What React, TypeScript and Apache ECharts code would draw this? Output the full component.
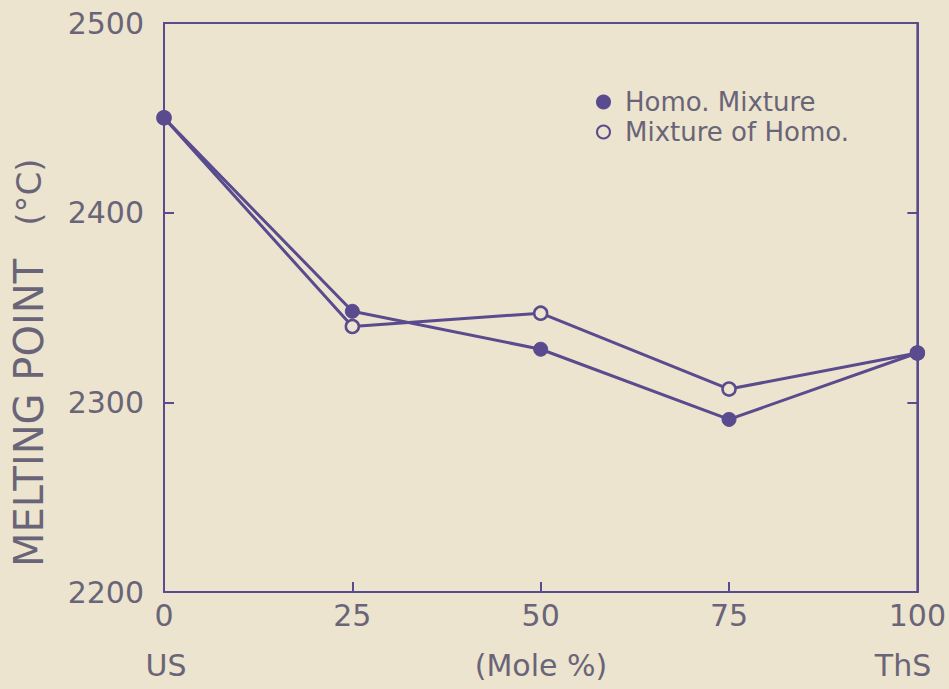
import React, { useEffect, useRef } from "react";
import * as echarts from "echarts";

const xValues = [0, 25, 50, 75, 100];
const homoMixture = [2450, 2348, 2328, 2291, 2326];
const mixtureOfHomo = [2450, 2340, 2347, 2307, 2326];
const seriesNames = ["Homo. Mixture", "Mixture of Homo."];

const LINE = "#5a4a8e";
const TEXT = "#6a6478";
const BG = "#ece4ce";
const FONT = "DejaVu Sans";

export default function App() {
  const ref = useRef<HTMLDivElement>(null);
  useEffect(() => {
    document.body.style.margin = "0";
    const chart = echarts.init(ref.current!, undefined, { renderer: "svg" });
    const toPairs = (ys: number[]) => xValues.map((x, i) => [x, ys[i]]);
    chart.setOption({
      animation: false,
      backgroundColor: BG,
      grid: {
        left: 164,
        right: 28,
        top: 23,
        bottom: 97,
        show: true,
        borderColor: LINE,
        borderWidth: 2,
        backgroundColor: "transparent",
      },
      legend: {
        orient: "vertical",
        left: 591,
        top: 84,
        itemWidth: 13,
        itemHeight: 13,
        itemGap: 4,
        icon: "circle",
        textStyle: {
          fontFamily: FONT,
          fontSize: 26,
          color: TEXT,
          lineHeight: 26,
          padding: [0, 0, 0, 10],
        },
        data: seriesNames,
      },
      xAxis: {
        type: "value",
        min: 0,
        max: 100,
        interval: 25,
        axisLine: { show: true, lineStyle: { color: LINE, width: 2 } },
        axisTick: { show: true, inside: true, length: 10, lineStyle: { color: LINE, width: 2 } },
        splitLine: { show: false },
        axisLabel: {
          fontFamily: FONT,
          fontSize: 30,
          color: TEXT,
          margin: 8,
          formatter: (v: number) => String(v),
        },
      },
      yAxis: [
        {
          type: "value",
          min: 2200,
          max: 2500,
          interval: 100,
          position: "left",
          axisLine: { show: true, lineStyle: { color: LINE, width: 2 } },
          axisTick: { show: true, inside: true, length: 10, lineStyle: { color: LINE, width: 2 } },
          splitLine: { show: false },
          axisLabel: {
            fontFamily: FONT,
            fontSize: 30,
            color: TEXT,
            margin: 20,
            formatter: (v: number) => String(v),
          },
        },
        {
          type: "value",
          min: 2200,
          max: 2500,
          interval: 100,
          position: "right",
          axisLine: { show: true, lineStyle: { color: LINE, width: 2 } },
          axisTick: { show: true, inside: true, length: 10, lineStyle: { color: LINE, width: 2 } },
          splitLine: { show: false },
          axisLabel: { show: false },
        },
      ],
      series: [
        {
          name: seriesNames[0],
          type: "line",
          data: toPairs(homoMixture),
          symbol: "circle",
          symbolSize: 14,
          lineStyle: { color: LINE, width: 3 },
          itemStyle: { color: LINE, borderColor: LINE, borderWidth: 1 },
          z: 3,
        },
        {
          name: seriesNames[1],
          type: "line",
          data: toPairs(mixtureOfHomo),
          symbol: "circle",
          symbolSize: 13,
          lineStyle: { color: LINE, width: 3 },
          itemStyle: { color: BG, borderColor: LINE, borderWidth: 2.5 },
          z: 2,
        },
      ],
      graphic: [
        {
          type: "text",
          x: 29,
          y: 413,
          rotation: Math.PI / 2,
          style: {
            text: "MELTING POINT",
            font: `40px "${FONT}"`,
            fill: TEXT,
            align: "center",
            verticalAlign: "middle",
          },
        },
        {
          type: "text",
          x: 29,
          y: 192,
          rotation: Math.PI / 2,
          style: {
            text: "(°C)",
            font: `34px "${FONT}"`,
            fill: TEXT,
            align: "center",
            verticalAlign: "middle",
          },
        },
        {
          type: "text",
          x: 166,
          y: 665,
          style: { text: "US", font: `30px "${FONT}"`, fill: TEXT, align: "center", verticalAlign: "middle" },
        },
        {
          type: "text",
          x: 541,
          y: 665,
          style: { text: "(Mole %)", font: `30px "${FONT}"`, fill: TEXT, align: "center", verticalAlign: "middle" },
        },
        {
          type: "text",
          x: 903,
          y: 665,
          style: { text: "ThS", font: `30px "${FONT}"`, fill: TEXT, align: "center", verticalAlign: "middle" },
        },
      ],
    });
    return () => chart.dispose();
  }, []);
  return <div ref={ref} style={{ width: 949, height: 689 }} />;
}
